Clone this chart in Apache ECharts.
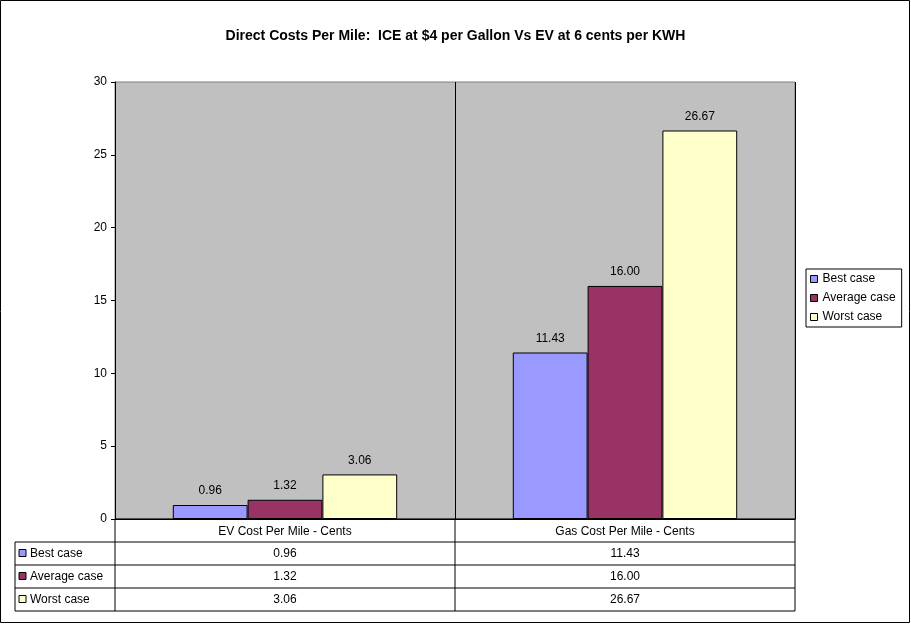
<!DOCTYPE html>
<html><head><meta charset="utf-8">
<script src="https://cdn.jsdelivr.net/npm/echarts@6/dist/echarts.min.js"></script>
<style>html,body{margin:0;padding:0;background:#fff}#c{width:911px;height:624px}</style>
</head><body><div id="c"></div>
<script>
const categories = ['EV Cost Per Mile - Cents', 'Gas Cost Per Mile - Cents'];
const seriesNames = ['Best case', 'Average case', 'Worst case'];
const bestCase = [0.96, 11.43];
const averageCase = [1.32, 16.00];
const worstCase = [3.06, 26.67];
const colors = ['#9999FF', '#993366', '#FFFFCC'];
const values = [bestCase, averageCase, worstCase];

const F = 'Liberation Sans, Arial, sans-serif';
const L = 115, R = 795, T = 82, B = 519;
const rowH = 23, colW = (R - L) / categories.length;
const tLeft = 15;

const g = [];
// outer border
g.push({type:'rect', shape:{x:0.5,y:0.5,width:909,height:622}, style:{fill:'none',stroke:'#000',lineWidth:1}, silent:true});
// table
const rows = seriesNames.length;
const tBottom = B + rowH * (rows + 1);
g.push({type:'line', shape:{x1:L,y1:B,x2:R,y2:B}, style:{stroke:'#000'}});
for (let i = 1; i <= rows + 1; i++) {
  const y = B + rowH * i;
  g.push({type:'line', shape:{x1:tLeft,y1:y,x2:R,y2:y}, style:{stroke:'#000'}});
}
g.push({type:'line', shape:{x1:tLeft,y1:B+rowH,x2:tLeft,y2:tBottom}, style:{stroke:'#000'}});
for (let c = 0; c <= categories.length; c++) {
  const x = L + colW * c;
  g.push({type:'line', shape:{x1:x,y1:B,x2:x,y2:tBottom}, style:{stroke:'#000'}});
}
for (let r = 0; r < rows; r++) {
  const yc = B + rowH * (r + 1) + rowH / 2;
  g.push({type:'rect', shape:{x:tLeft+4,y:yc-4,width:7,height:7}, style:{fill:colors[r],stroke:'#000',lineWidth:1}});
  g.push({type:'text', x:tLeft+15, y:yc, style:{text:seriesNames[r], font:'12px '+F, fill:'#000', verticalAlign:'middle'}});
  for (let c = 0; c < categories.length; c++) {
    g.push({type:'text', x:L+colW*c+colW/2, y:yc, style:{text:values[r][c].toFixed(2), font:'12px '+F, fill:'#000', align:'center', verticalAlign:'middle'}});
  }
}

const chart = echarts.init(document.getElementById('c'));
chart.setOption({
  animation:false,
  textStyle:{fontFamily:F},
  title:{text:'Direct Costs Per Mile:  ICE at $4 per Gallon Vs EV at 6 cents per KWH', left:'center', top:24,
    textStyle:{fontSize:14, fontWeight:'bold', color:'#000', fontFamily:F}},
  legend:{orient:'vertical', left:806, top:269, itemWidth:7, itemHeight:7, itemGap:7, padding:[4,6,4,4],
    borderColor:'#000', borderWidth:1, backgroundColor:'#fff', icon:'rect',
    itemStyle:{borderColor:'#000', borderWidth:1},
    textStyle:{fontSize:12, color:'#000', fontFamily:F}, data:seriesNames},
  grid:{left:L, right:911-R, top:T, bottom:624-B, show:true, backgroundColor:'#C0C0C0', borderColor:'#808080', borderWidth:1},
  xAxis:{type:'category', data:categories,
    axisLine:{lineStyle:{color:'#000'}}, axisTick:{show:false},
    splitLine:{show:true, lineStyle:{color:'#000'}},
    axisLabel:{color:'#000', fontSize:12, margin:7, fontFamily:F}},
  yAxis:{type:'value', min:0, max:30, interval:5,
    axisLine:{show:true, lineStyle:{color:'#000'}}, axisTick:{show:true, inside:false, length:4, lineStyle:{color:'#000'}},
    splitLine:{show:false}, axisLabel:{color:'#000', fontSize:12, margin:8, fontFamily:F}},
  series: seriesNames.map((n,i)=>({
    name:n, type:'bar', data:values[i], barGap:'0%', barCategoryGap:'34%',
    itemStyle:{color:colors[i], borderColor:'#000', borderWidth:1},
    label:{show:true, position:'top', distance:8, color:'#000', fontSize:12, fontFamily:F, formatter:p=>p.value.toFixed(2)}
  })),
  graphic:g
});
</script></body></html>
